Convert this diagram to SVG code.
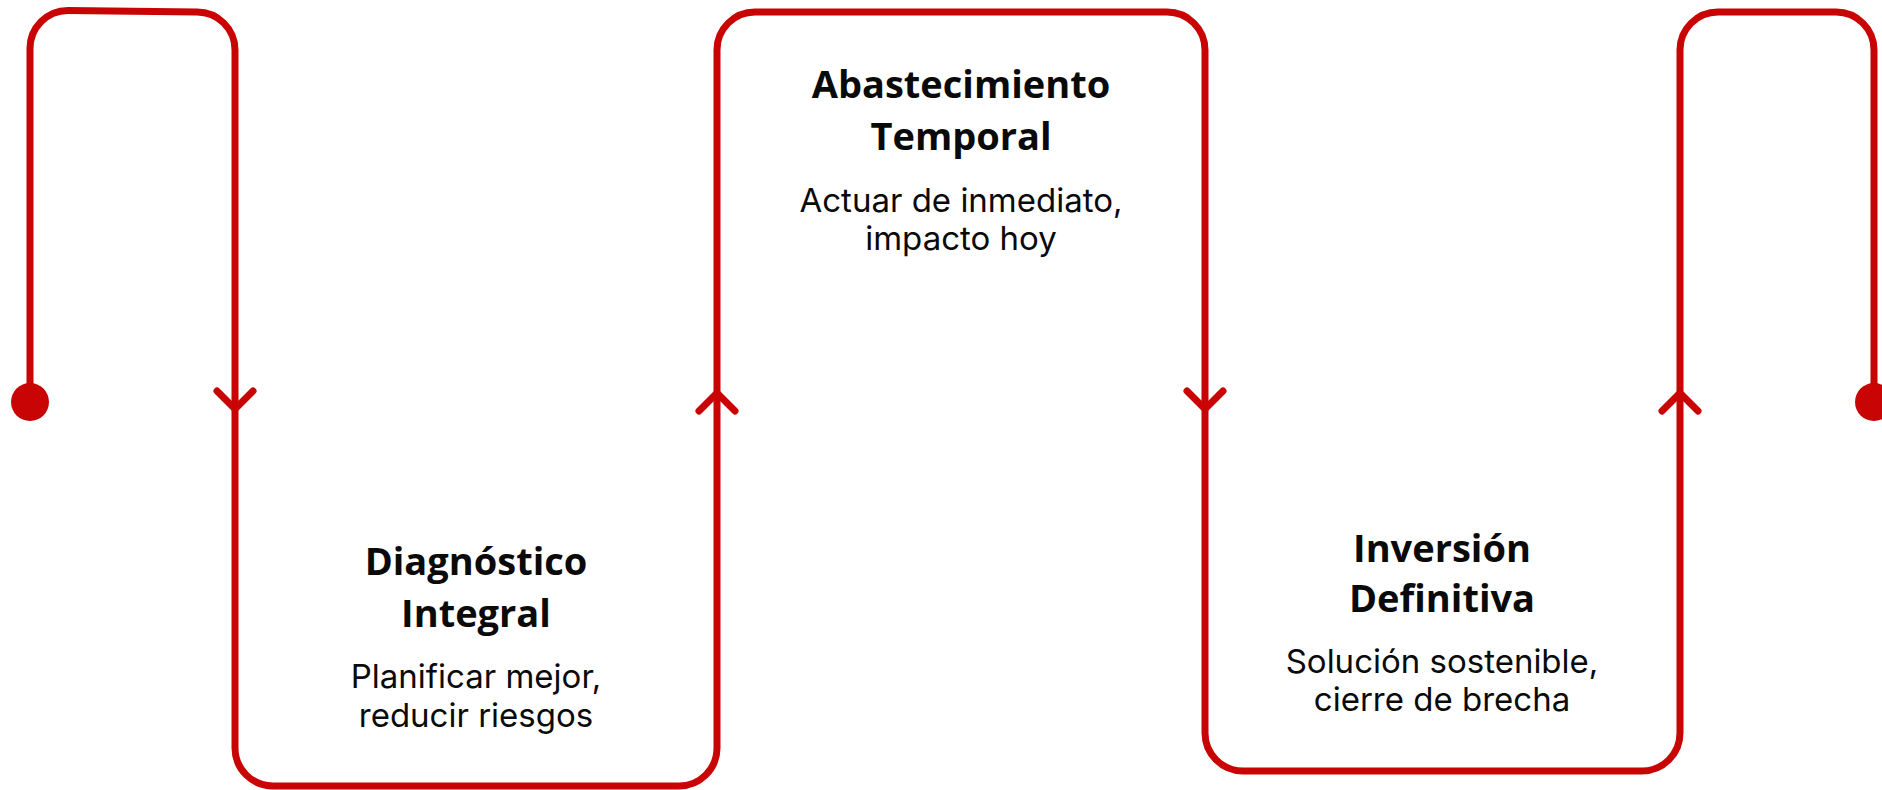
<svg xmlns="http://www.w3.org/2000/svg" width="1882" height="790" viewBox="0 0 1882 790">
  <style>
    .line { fill: none; stroke: #C80404; stroke-width: 7; stroke-linecap: round; stroke-linejoin: round; }
    .dot { fill: #C80404; }
    .title { font-family: "Open Sans", "Noto Sans", "Liberation Sans", sans-serif; font-weight: 700; font-size: 38px; fill: #0a0a0a; text-anchor: middle; }
    .body { font-family: Inter, "Noto Sans", "Liberation Sans", sans-serif; font-weight: 400; font-size: 33px; fill: #0a0a0a; text-anchor: middle; }
  </style>
  <rect width="1882" height="790" fill="#ffffff"/>
  <g id="connectors">
    <path class="line" d="M30,402 V49 A38,38 0 0 1 68,10.5 L197,12 A38,38 0 0 1 235,50 V748 A38,38 0 0 0 273,786 H679 A38,38 0 0 0 717,748 V50 A38,38 0 0 1 755,12 H1167 A38,38 0 0 1 1205,50 V733 A38,38 0 0 0 1243,771 H1642 A38,38 0 0 0 1680,733 V50 A38,38 0 0 1 1718,12 H1836 A38,38 0 0 1 1874,50 V402"/>
    <circle class="dot" cx="30" cy="402" r="19"/>
    <circle class="dot" cx="1874" cy="402" r="19"/>
    <path class="line" d="M217,391 L235,409 L253,391"/>
    <path class="line" d="M699,411 L717,393 L735,411"/>
    <path class="line" d="M1187,391 L1205,409 L1223,391"/>
    <path class="line" d="M1662,411 L1680,393 L1698,411"/>
  </g>
  <g id="node-diagnostico">
    <text class="title" x="476" y="575">Diagnóstico</text>
    <text class="title" x="476" y="627">Integral</text>
    <text class="body" x="476" y="688">Planificar mejor,</text>
    <text class="body" x="476" y="727">reducir riesgos</text>
  </g>
  <g id="node-abastecimiento">
    <text class="title" x="961" y="98">Abastecimiento</text>
    <text class="title" x="961" y="150">Temporal</text>
    <text class="body" x="961" y="212">Actuar de inmediato,</text>
    <text class="body" x="961" y="250">impacto hoy</text>
  </g>
  <g id="node-inversion">
    <text class="title" x="1442" y="562">Inversión</text>
    <text class="title" x="1442" y="612">Definitiva</text>
    <text class="body" x="1442" y="673">Solución sostenible,</text>
    <text class="body" x="1442" y="711">cierre de brecha</text>
  </g>
</svg>
